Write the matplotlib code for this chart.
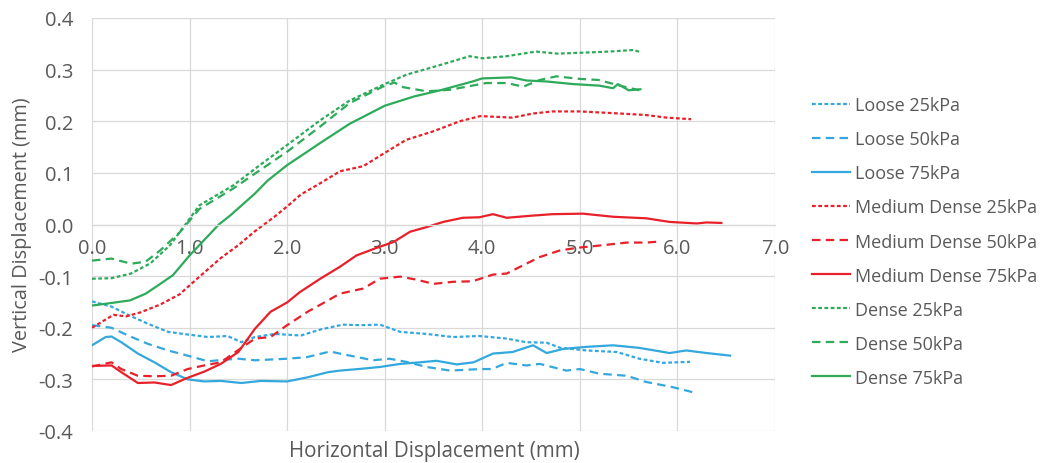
import matplotlib
matplotlib.use("Agg")
import matplotlib.pyplot as plt

# Loose sand
loose25_x = [0, 0.2, 0.37, 0.57, 0.78, 0.98, 1.19, 1.39, 1.53, 1.67, 1.87, 2.14, 2.35, 2.57, 2.75, 2.95,
             3.16, 3.43, 3.7, 3.97, 4.25, 4.45, 4.66, 4.8, 5.07, 5.38, 5.61, 5.85, 6.13]
loose25_y = [-0.149, -0.159, -0.175, -0.192, -0.208, -0.213, -0.218, -0.216, -0.228, -0.218, -0.212, -0.215,
             -0.203, -0.194, -0.195, -0.194, -0.208, -0.212, -0.218, -0.216, -0.221, -0.228, -0.229, -0.239,
             -0.244, -0.247, -0.26, -0.268, -0.266]

loose50_x = [0, 0.2, 0.37, 0.57, 0.78, 0.98, 1.19, 1.35, 1.5, 1.67, 2.0, 2.2, 2.44, 2.54, 2.88, 3.05, 3.22,
             3.43, 3.67, 3.98, 4.1, 4.25, 4.45, 4.59, 4.86, 5.0, 5.2, 5.48, 5.68, 5.95, 6.16]
loose50_y = [-0.195, -0.2, -0.215, -0.231, -0.244, -0.254, -0.265, -0.262, -0.26, -0.263, -0.26, -0.257,
             -0.246, -0.25, -0.263, -0.26, -0.266, -0.276, -0.283, -0.28, -0.28, -0.268, -0.273, -0.27,
             -0.283, -0.28, -0.289, -0.293, -0.305, -0.315, -0.325]

loose75_x = [0, 0.14, 0.2, 0.3, 0.47, 0.64, 0.81, 0.98, 1.15, 1.32, 1.53, 1.73, 2.0, 2.21, 2.42, 2.54, 2.73,
             2.95, 3.16, 3.36, 3.53, 3.74, 3.91, 4.11, 4.31, 4.52, 4.66, 4.83, 5.07, 5.34, 5.61, 5.92, 6.09,
             6.3, 6.54]
loose75_y = [-0.234, -0.218, -0.217, -0.228, -0.25, -0.267, -0.286, -0.3, -0.304, -0.303, -0.307, -0.303,
             -0.304, -0.296, -0.286, -0.283, -0.28, -0.276, -0.27, -0.267, -0.264, -0.271, -0.267, -0.25,
             -0.247, -0.234, -0.249, -0.241, -0.237, -0.234, -0.239, -0.249, -0.244, -0.249, -0.254]

# Medium dense sand
med25_x = [0, 0.22, 0.35, 0.5, 0.7, 0.9, 1.0, 1.15, 1.32, 1.5, 1.67, 1.87, 2.0, 2.14, 2.34, 2.54, 2.78,
           3.02, 3.22, 3.49, 3.77, 3.98, 4.31, 4.52, 4.72, 5.0, 5.41, 5.68, 5.89, 6.14]
med25_y = [-0.2, -0.175, -0.178, -0.17, -0.155, -0.135, -0.118, -0.093, -0.065, -0.04, -0.013, 0.015, 0.035,
           0.058, 0.08, 0.103, 0.113, 0.141, 0.164, 0.18, 0.2, 0.21, 0.207, 0.215, 0.219, 0.219, 0.215,
           0.212, 0.207, 0.204]

med50_x = [0, 0.2, 0.3, 0.47, 0.64, 0.81, 0.98, 1.15, 1.32, 1.5, 1.67, 1.83, 2.0, 2.21, 2.42, 2.54, 2.78,
           2.95, 3.16, 3.33, 3.5, 3.7, 3.9, 4.11, 4.25, 4.45, 4.59, 4.8, 4.98, 5.24, 5.48, 5.68, 5.82]
med50_y = [-0.275, -0.267, -0.28, -0.293, -0.294, -0.293, -0.28, -0.273, -0.267, -0.243, -0.221, -0.218,
           -0.195, -0.169, -0.147, -0.134, -0.124, -0.105, -0.101, -0.107, -0.115, -0.111, -0.11, -0.097,
           -0.095, -0.076, -0.063, -0.05, -0.045, -0.04, -0.035, -0.035, -0.033]

med75_x = [0, 0.2, 0.3, 0.47, 0.64, 0.81, 0.98, 1.15, 1.32, 1.5, 1.67, 1.83, 2.0, 2.13, 2.34, 2.54, 2.71,
           2.92, 3.09, 3.26, 3.43, 3.6, 3.8, 3.97, 4.11, 4.25, 4.5, 4.72, 5.03, 5.34, 5.68, 5.92, 6.2, 6.3,
           6.45]
med75_y = [-0.274, -0.273, -0.286, -0.307, -0.306, -0.311, -0.297, -0.285, -0.27, -0.247, -0.202, -0.169,
           -0.151, -0.131, -0.105, -0.082, -0.06, -0.045, -0.034, -0.014, -0.005, 0.005, 0.013, 0.014, 0.02,
           0.013, 0.017, 0.02, 0.021, 0.015, 0.012, 0.005, 0.002, 0.004, 0.003]

# Dense sand
dense25_x = [0, 0.2, 0.4, 0.6, 0.8, 0.98, 1.1, 1.45, 1.72, 2.0, 2.34, 2.64, 3.0, 3.22, 3.46, 3.57, 3.87,
             4.0, 4.25, 4.55, 4.77, 5.05, 5.3, 5.55, 5.62]
dense25_y = [-0.105, -0.104, -0.095, -0.075, -0.04, 0.006, 0.037, 0.076, 0.115, 0.154, 0.202, 0.24, 0.272,
             0.29, 0.303, 0.309, 0.326, 0.322, 0.326, 0.335, 0.331, 0.333, 0.335, 0.338, 0.334]

dense50_x = [0, 0.2, 0.4, 0.55, 0.7, 0.9, 1.1, 1.45, 1.72, 2.0, 2.34, 2.64, 2.98, 3.1, 3.19, 3.43, 3.67,
             3.84, 4.04, 4.25, 4.42, 4.59, 4.76, 5.0, 5.19, 5.43, 5.61]
dense50_y = [-0.07, -0.066, -0.076, -0.072, -0.05, -0.015, 0.03, 0.07, 0.105, 0.141, 0.19, 0.235, 0.267,
             0.275, 0.266, 0.258, 0.261, 0.267, 0.274, 0.274, 0.267, 0.28, 0.287, 0.282, 0.28, 0.268, 0.26]

dense75_x = [0, 0.2, 0.39, 0.55, 0.7, 0.83, 1.0, 1.15, 1.3, 1.42, 1.67, 1.8, 2.0, 2.34, 2.64, 3.0, 3.3,
             3.57, 3.9, 4.0, 4.3, 4.45, 4.66, 4.93, 5.2, 5.34, 5.39, 5.5, 5.62]
dense75_y = [-0.157, -0.152, -0.147, -0.134, -0.115, -0.098, -0.06, -0.03, 0.0, 0.018, 0.06, 0.085, 0.115,
             0.158, 0.195, 0.23, 0.248, 0.26, 0.277, 0.283, 0.285, 0.279, 0.277, 0.272, 0.269, 0.264, 0.272,
             0.26, 0.262]

BLUE = "#34A8DE"
RED = "#E8202A"
GREEN = "#2DAA5A"
DOT = (1.7, 1.1)
DASH = (3.8, 2.4)

series = [
    ("Loose 25kPa", loose25_x, loose25_y, BLUE, DOT),
    ("Loose 50kPa", loose50_x, loose50_y, BLUE, DASH),
    ("Loose 75kPa", loose75_x, loose75_y, BLUE, None),
    ("Medium Dense 25kPa", med25_x, med25_y, RED, DOT),
    ("Medium Dense 50kPa", med50_x, med50_y, RED, DASH),
    ("Medium Dense 75kPa", med75_x, med75_y, RED, None),
    ("Dense 25kPa", dense25_x, dense25_y, GREEN, DOT),
    ("Dense 50kPa", dense50_x, dense50_y, GREEN, DASH),
    ("Dense 75kPa", dense75_x, dense75_y, GREEN, None),
]

plt.rcParams["font.family"] = ["Open Sans", "DejaVu Sans"]
TXT = "#595959"

fig = plt.figure(figsize=(10.45, 4.64), dpi=100)
ax = fig.add_axes([92 / 1045, 1 - 432 / 464, (775 - 92) / 1045, (432 - 19) / 464])

for label, xs, ys, color, dashes in series:
    line, = ax.plot(xs, ys, color=color, lw=1.6, label=label)
    if dashes is not None:
        line.set_dashes(dashes)

ax.set_xlim(0, 7)
ax.set_ylim(-0.4, 0.4)
ax.set_xticks([0, 1, 2, 3, 4, 5, 6, 7])
ax.set_xticklabels([f"{v:.1f}" for v in range(8)])
ax.set_yticks([-0.4, -0.3, -0.2, -0.1, 0.0, 0.1, 0.2, 0.3, 0.4])
ax.set_yticklabels(["-0.4", "-0.3", "-0.2", "-0.1", "0.0", "0.1", "0.2", "0.3", "0.4"])
ax.grid(True, color="#D9D9D9", lw=0.9)
ax.set_axisbelow(True)

for s in ["top", "right", "left"]:
    ax.spines[s].set_visible(False)
# x axis crosses at zero, labels sit just under it
ax.spines["bottom"].set_position(("data", 0))
ax.spines["bottom"].set_color("#D9D9D9")
ax.spines["bottom"].set_linewidth(0.9)

ax.tick_params(axis="x", length=0, pad=10, labelsize=14.5, labelcolor=TXT)
ax.tick_params(axis="y", length=0, pad=13.5, labelsize=14.5, labelcolor=TXT)

fig.text(434 / 1045, 1 - 452 / 464, "Horizontal Displacement (mm)", ha="center", va="center",
         fontsize=14.8, color=TXT)
fig.text(22 / 1045, 1 - 225 / 464, "Vertical Displacement (mm)", ha="center", va="center",
         rotation=90, fontsize=14.3, color=TXT)

ax.legend(loc="upper left", bbox_to_anchor=(805 / 1045, 1 - 90 / 464), bbox_transform=fig.transFigure,
          frameon=False, fontsize=13, labelcolor=TXT, handlelength=2.1, handletextpad=0.25,
          labelspacing=0.89, borderaxespad=0)

fig.savefig("out.png", dpi=100)
